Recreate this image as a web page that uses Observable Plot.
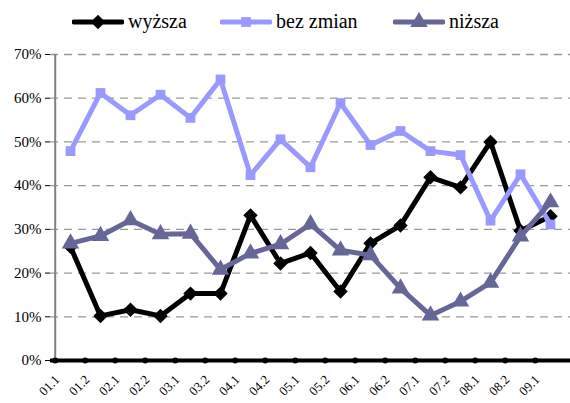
<!DOCTYPE html>
<html>
<head>
<meta charset="utf-8">
<script src="https://cdn.jsdelivr.net/npm/d3@7"></script>
<script src="https://cdn.jsdelivr.net/npm/@observablehq/plot@0.6"></script>
<style>
  body { margin: 0; background: #fff; font-family: "Times New Roman", Times, "Liberation Serif", "DejaVu Serif", "Noto Serif", serif; }
  #wrap { position: relative; width: 570px; height: 403px; }
  #legend { position: relative; height: 40px; }
  .item { position: absolute; top: 10px; display: flex; align-items: center; font-size: 20px; color: #000; }
  .item svg { margin-right: 4px; }
</style>
</head>
<body>
<div id="wrap">
  <div id="legend"></div>
  <div id="chart"></div>
</div>
<script>
const categories = ["01.1","01.2","02.1","02.2","03.1","03.2","04.1","04.2","05.1","05.2","06.1","06.2","07.1","07.2","08.1","08.2","09.1"];
const seriesNames = ["wyższa", "bez zmian", "niższa"];
const wyzsza   = [26.0,10.2,11.6,10.2,15.3,15.3,33.2,22.2,24.6,15.8,26.8,30.9,41.9,39.6,50.0,29.7,33.0];
const bezZmian = [47.9,61.2,56.1,60.8,55.5,64.3,42.4,50.6,44.2,58.9,49.3,52.5,47.9,47.0,32.0,42.6,31.1];
const nizsza   = [26.8,28.5,32.1,28.9,29.0,20.8,24.5,26.6,31.2,25.2,24.1,16.5,10.3,13.5,17.8,28.4,36.2];
const yTicks = [0, 0.1, 0.2, 0.3, 0.4, 0.5, 0.6, 0.7];

const colors = ["#000000", "#9999FF", "#666699"];
const symbols = [d3.symbolDiamond2 || d3.symbolDiamond, d3.symbolSquare, d3.symbolTriangle];
const radii = [6.5, 5.5, 6.5];
const values = [wyzsza, bezZmian, nizsza];

const data = [];
seriesNames.forEach((s, si) => {
  categories.forEach((c, i) => data.push({series: s, si, cat: c, value: values[si][i] / 100}));
});

const width = 570, height = 363, mL = 50, mR = 0, mT = 14, mB = 43;
const step = (width - mL - mR) / categories.length;
const serif = '"Times New Roman", Times, "Liberation Serif", "DejaVu Serif", "Noto Serif", serif';

const marks = [
  Plot.ruleY(yTicks.slice(1), {stroke: "#999", strokeWidth: 1.3, strokeDasharray: "8,6"}),
  Plot.ruleX([categories[0]], {y1: 0, y2: 0.7, dx: -step / 2, stroke: "#808080", strokeWidth: 2}),
  Plot.ruleY([0], {stroke: "#000", strokeWidth: 4}),
  Plot.dot(categories, {x: d => d, y: () => 0, dx: -step / 2, r: 3, fill: "#000", stroke: "none"}),
  Plot.text(categories, {x: d => d, y: () => 0, text: d => d, rotate: -45, textAnchor: "end",
    dx: -13, dy: 17, fontSize: 13, fontFamily: serif, fill: "#000"})
];
seriesNames.forEach((s, si) => {
  const d = data.filter(r => r.si === si);
  marks.push(Plot.line(d, {x: "cat", y: "value", stroke: colors[si], strokeWidth: 5, strokeLinejoin: "miter"}));
  marks.push(Plot.dot(d, {x: "cat", y: "value", symbol: () => symbols[si], r: radii[si], fill: colors[si], stroke: "none"}));
});

const chart = Plot.plot({
  width, height,
  marginLeft: mL, marginRight: mR, marginTop: mT, marginBottom: mB,
  style: {fontFamily: serif, fontSize: "15px", background: "#fff", color: "#000"},
  x: {type: "point", domain: categories, padding: 0.5, axis: null},
  y: {domain: [0, 0.7], ticks: yTicks, tickFormat: d3.format(".0%"), tickSize: 5, tickPadding: 4, label: null},
  symbol: {type: "identity"},
  marks
});
document.getElementById("chart").appendChild(chart);

// Legend
const legendLefts = [72, 220, 393];
const legend = document.getElementById("legend");
seriesNames.forEach((s, si) => {
  const item = document.createElement("div");
  item.className = "item";
  item.style.left = legendLefts[si] + "px";
  const svg = d3.create("svg").attr("width", 52).attr("height", 20);
  svg.append("line").attr("x1", 2).attr("x2", 50).attr("y1", 10).attr("y2", 10)
    .attr("stroke", colors[si]).attr("stroke-width", 5).attr("stroke-linecap", "round");
  svg.append("path").attr("transform", "translate(26,10)")
    .attr("d", d3.symbol(symbols[si], Math.PI * radii[si] * radii[si])())
    .attr("fill", colors[si]);
  item.appendChild(svg.node());
  const span = document.createElement("span");
  span.textContent = s;
  item.appendChild(span);
  legend.appendChild(item);
});
</script>
</body>
</html>
